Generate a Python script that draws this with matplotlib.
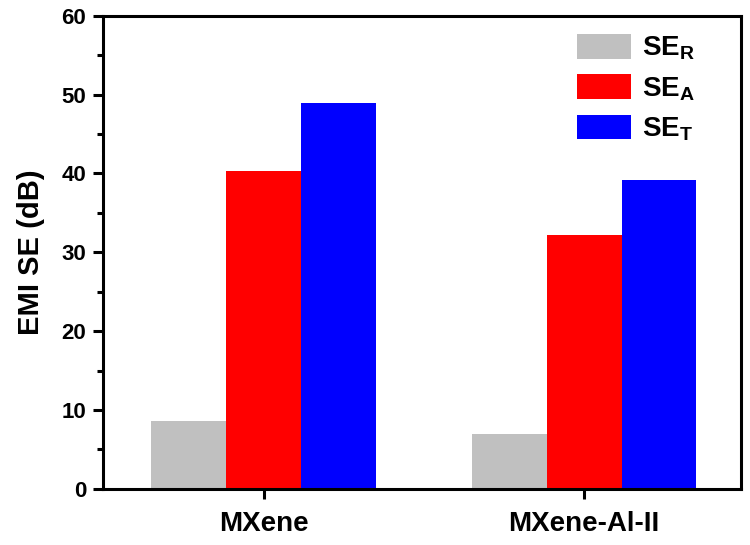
import matplotlib
matplotlib.use('Agg')
import matplotlib.pyplot as plt
from matplotlib.ticker import MultipleLocator

plt.rcParams['font.family'] = 'Liberation Sans'
plt.rcParams['font.weight'] = 'bold'
plt.rcParams['mathtext.fontset'] = 'custom'
plt.rcParams['mathtext.rm'] = 'Liberation Sans:bold'
plt.rcParams['mathtext.bf'] = 'Liberation Sans:bold'

# data
samples = ['MXene', 'MXene-Al-II']
se_r = [8.6, 6.9]
se_a = [40.3, 32.2]
se_t = [48.9, 39.2]
labels = ['SE$_\\mathbf{R}$', 'SE$_\\mathbf{A}$', 'SE$_\\mathbf{T}$']
colors = ['#c0c0c0', '#ff0000', '#0000ff']

fig = plt.figure(figsize=(7.5, 5.45), dpi=100)
ax = fig.add_axes([0.137, 0.103, 0.851, 0.868])

x = range(len(samples))
w = 0.234
for i, (vals, lab, c) in enumerate(zip([se_r, se_a, se_t], labels, colors)):
    ax.bar([p + (i - 1) * w for p in x], vals, w, color=c, label=lab, linewidth=0)

ax.set_xlim(-0.503, 1.49)
ax.set_ylim(0, 60)
ax.set_xticks(list(x))
ax.set_xticklabels(samples)
ax.yaxis.set_major_locator(MultipleLocator(10))
ax.yaxis.set_minor_locator(MultipleLocator(5))
ax.set_ylabel('EMI SE (dB)', fontsize=21, fontweight='bold', labelpad=12)

for s in ax.spines.values():
    s.set_linewidth(2.2)
ax.tick_params(axis='both', which='major', direction='out', length=7, width=2.2)
ax.tick_params(axis='y', which='major', labelsize=16, pad=5)
ax.tick_params(axis='y', which='minor', direction='out', length=4, width=2.2)
ax.tick_params(axis='x', which='major', labelsize=20, pad=9)

ax.legend(loc='upper right', frameon=False, fontsize=20, handlelength=1.95,
          handleheight=1.0, labelspacing=0.42, handletextpad=0.4,
          bbox_to_anchor=(0.967, 1.015))

fig.savefig('out.png', dpi=100, facecolor='white')
